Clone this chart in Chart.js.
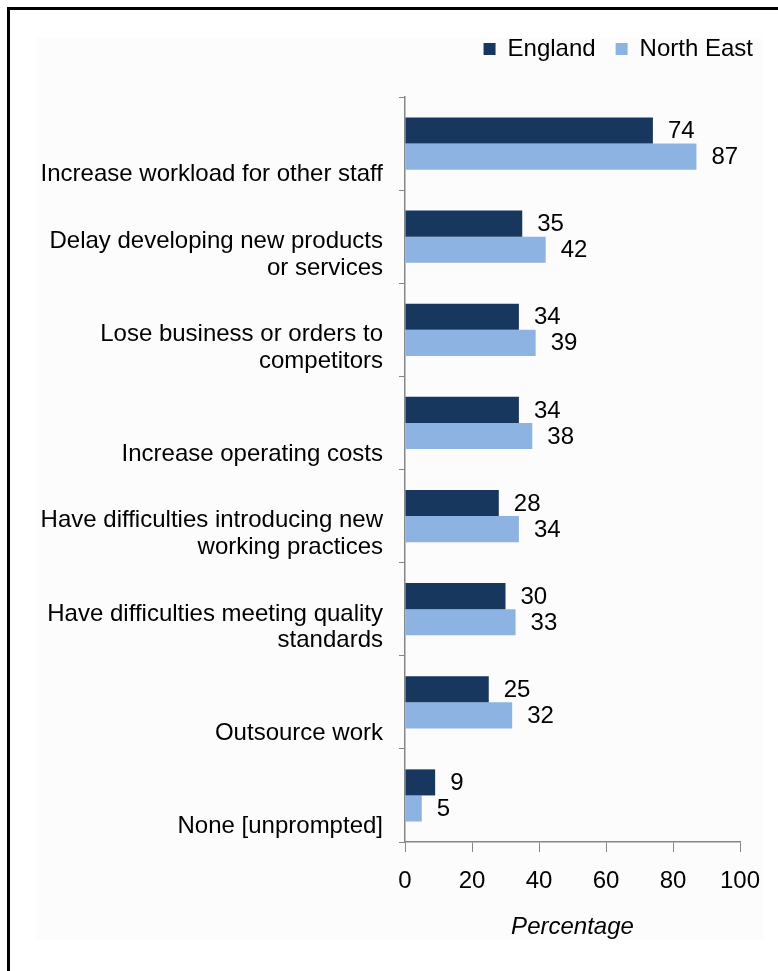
<!DOCTYPE html>
<html lang="en">
<head>
    <meta charset="UTF-8">
    <meta name="viewport" content="width=device-width, initial-scale=1.0">
    <title>Effects of skill shortages</title>
    <style>
        html, body { margin: 0; padding: 0; background: #fff; }
        #wrap { position: relative; width: 778px; height: 971px; overflow: hidden; }
        #frame { position: absolute; left: 7px; top: 7px; right: -10px; bottom: -10px;
                 border-left: 3px solid #000; border-top: 3px solid #000; }
        #panel { position: absolute; left: 36px; top: 38px; width: 727px; height: 902px; background: #fcfcfc; }
        #myChart { position: absolute; left: 0; top: 0; }
    </style>
</head>
<body>
    <div id="wrap">
        <div id="frame"></div>
        <div id="panel"></div>
        <canvas id="myChart" width="778" height="971"></canvas>
    </div>
    <script src="https://cdn.jsdelivr.net/npm/chart.js"></script>
    <script>
        const categories = [
            ['Increase workload for other staff'],
            ['Delay developing new products', 'or services'],
            ['Lose business or orders to', 'competitors'],
            ['Increase operating costs'],
            ['Have difficulties introducing new', 'working practices'],
            ['Have difficulties meeting quality', 'standards'],
            ['Outsource work'],
            ['None [unprompted]']
        ];
        const england = [74, 35, 34, 34, 28, 30, 25, 9];
        const northEast = [87, 42, 39, 38, 34, 33, 32, 5];
        const xTicks = [0, 20, 40, 60, 80, 100];

        const fontFamily = "'Liberation Sans', Arial, sans-serif";
        Chart.defaults.font.family = fontFamily;
        Chart.defaults.color = '#000';

        // numbers at the end of each bar
        const valueLabels = {
            id: 'valueLabels',
            afterDatasetsDraw(chart) {
                const ctx = chart.ctx;
                ctx.save();
                ctx.font = '24px ' + fontFamily;
                ctx.fillStyle = '#000';
                ctx.textAlign = 'left';
                ctx.textBaseline = 'middle';
                chart.data.datasets.forEach((ds, i) => {
                    chart.getDatasetMeta(i).data.forEach((bar, j) => {
                        ctx.fillText(String(ds.data[j]), bar.x + 15, bar.y + 1);
                    });
                });
                ctx.restore();
            }
        };

        const axisGrey = '#868686';

        new Chart(document.getElementById('myChart'), {
            type: 'bar',
            data: {
                labels: categories,
                datasets: [
                    { label: 'England', data: england, backgroundColor: '#17375E' },
                    { label: 'North East', data: northEast, backgroundColor: '#8DB3E2' }
                ]
            },
            options: {
                indexAxis: 'y',
                responsive: false,
                animation: false,
                categoryPercentage: 0.56,
                barPercentage: 1,
                layout: { padding: { left: 0, right: 5, top: 17, bottom: 29 } },
                plugins: {
                    tooltip: { enabled: false },
                    legend: {
                        position: 'top',
                        align: 'end',
                        labels: {
                            boxWidth: 12,
                            boxHeight: 12,
                            padding: 20,
                            font: { size: 24 },
                            color: '#000'
                        }
                    }
                },
                scales: {
                    x: {
                        type: 'linear',
                        min: 0,
                        max: 100,
                        afterBuildTicks: (scale) => { scale.ticks = xTicks.map(v => ({ value: v })); },
                        grid: { drawOnChartArea: false, color: axisGrey, tickLength: 10 },
                        border: { color: axisGrey, width: 1.5 },
                        ticks: { font: { size: 24 }, padding: 15, color: '#000' },
                        title: {
                            display: true,
                            text: 'Percentage',
                            font: { size: 24, style: 'italic' },
                            padding: { top: 0, bottom: 0 },
                            color: '#000'
                        },
                        afterFit: (scale) => { scale.height = 100; }
                    },
                    y: {
                        type: 'category',
                        grid: { drawOnChartArea: false, color: axisGrey, tickLength: 6, offset: true },
                        border: { color: axisGrey, width: 1.5 },
                        ticks: {
                            font: { size: 24, lineHeight: 1.1 },
                            padding: 16,
                            labelOffset: 18,
                            color: '#000',
                            autoSkip: false,
                            callback: (v, i) => categories[i].length === 1 ? ['', categories[i][0]] : categories[i]
                        },
                        afterFit: (scale) => { scale.width = 405; }
                    },
                    // empty axes used only as spacing around the plot
                    spaceTop: {
                        type: 'linear',
                        axis: 'x',
                        position: 'top',
                        grid: { display: false },
                        border: { display: false },
                        ticks: { display: false },
                        afterFit: (scale) => { scale.height = 26; }
                    },
                    spaceRight: {
                        type: 'linear',
                        axis: 'y',
                        position: 'right',
                        grid: { display: false },
                        border: { display: false },
                        ticks: { display: false },
                        afterFit: (scale) => { scale.width = 33; }
                    }
                }
            },
            plugins: [valueLabels]
        });
    </script>
</body>
</html>
